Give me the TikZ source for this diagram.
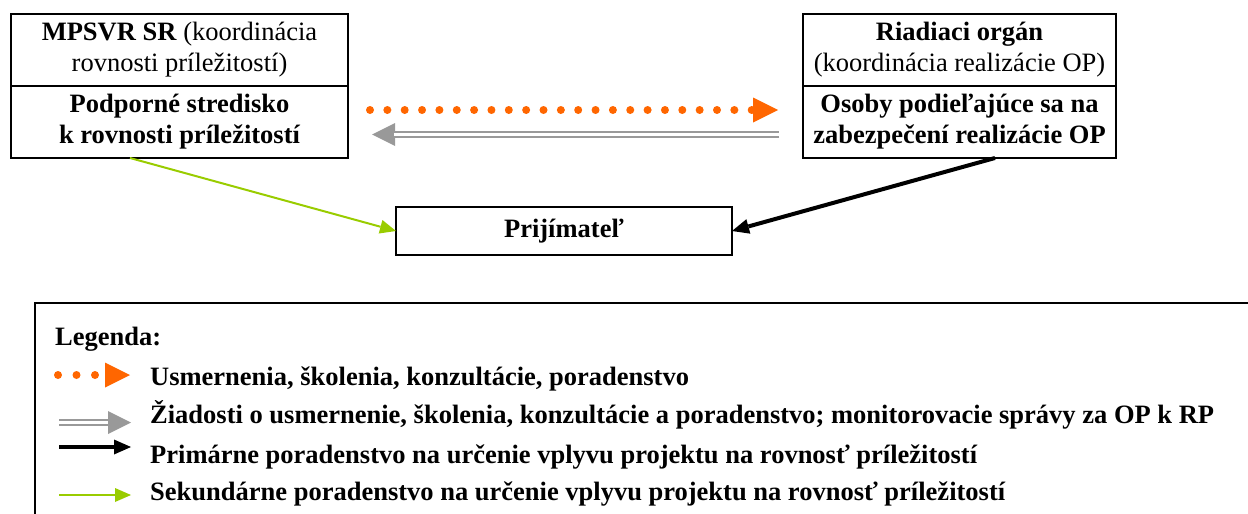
\documentclass[tikz,border=0pt]{standalone}
\usepackage{fontspec}
\setmainfont{Liberation Serif}
\usetikzlibrary{arrows.meta,positioning}
\definecolor{dotorange}{HTML}{FF6600}
\definecolor{arrowgray}{HTML}{999999}
\definecolor{lightgreen}{HTML}{99CC00}

\begin{document}
\begin{tikzpicture}[x=1pt,y=1pt,
  boxstyle/.style={draw,line width=1.5pt,align=center,inner sep=0pt,outer sep=0pt,minimum height=72pt,font=\fontsize{26.5}{31}\selectfont},
  boldbox/.style={boxstyle,font=\fontsize{26.5}{31}\selectfont\bfseries},
  legendtext/.style={anchor=base west,inner sep=0pt,font=\fontsize{26.5}{31}\selectfont\bfseries},
  dotline/.style={dotorange,line width=8pt,line cap=round,-{Triangle[length=25pt,width=25pt,line width=0pt]}},
  grayline/.style={arrowgray,line width=7.5pt,-{Triangle[length=23pt,width=23pt,line width=0pt]}},
  grayinner/.style={white,line width=3.5pt},
  blackline/.style={black,line width=4pt,-{Triangle[length=17pt,width=15pt,line width=0pt]}},
  greenline/.style={lightgreen,line width=2pt,-{Triangle[length=16pt,width=14pt,line width=0pt]}}]
\clip (0,0) rectangle (1248,-514);

% boxes
\node[boxstyle,minimum width=337pt] (mpsvr) at (179.5,-50) {\textbf{MPSVR SR} (koordinácia\\rovnosti príležitostí)};
\node[boldbox,minimum width=337pt,below=0pt of mpsvr] (podpora) {Podporné stredisko\\k rovnosti príležitostí};
\node[boxstyle,minimum width=313pt] (riadiaci) at (959.5,-50) {\textbf{Riadiaci orgán}\\(koordinácia realizácie OP)};
\node[boldbox,minimum width=313pt,below=0pt of riadiaci] (osoby) {Osoby podieľajúce sa na\\zabezpečení realizácie OP};
\node[boldbox,minimum width=336pt,minimum height=48pt] (prijimatel) at (564,-231) {Prijímateľ};

% connectors
\draw[dotline,dash pattern=on 0pt off 17.35pt,shorten <=22pt,shorten >=25pt] ([yshift=12pt]podpora.east) -- ([yshift=12pt]osoby.west);
\draw[grayline,shorten <=24pt,shorten >=24pt] ([yshift=-12.5pt]osoby.west) -- ([yshift=-12.5pt]podpora.east);
\draw[grayinner,shorten <=24pt,shorten >=46pt] ([yshift=-12.5pt]osoby.west) -- ([yshift=-12.5pt]podpora.east);
\draw[greenline] ([xshift=-49.5pt]podpora.south) -- (prijimatel.west);
\draw[blackline] ([xshift=35.5pt]osoby.south) -- (prijimatel.east);

% legend
\draw[line width=1.5pt] (35,-303) rectangle (1262,-530);
\node[legendtext] (legenda) at (55,-345) {Legenda:};
\coordinate (o1) at (58,-375);  \coordinate (o2) at (130,-375);
\coordinate (g1) at (59,-422.5); \coordinate (g2) at (131,-422.5);
\coordinate (b1) at (59,-447);  \coordinate (b2) at (131,-447);
\coordinate (z1) at (59,-495);  \coordinate (z2) at (131,-495);
\draw[dotline,dash pattern=on 0pt off 18.5pt] (o1) -- (o2);
\draw[grayline] (g1) -- (g2);
\draw[grayinner,shorten >=23pt] (g1) -- (g2);
\draw[blackline] (b1) -- (b2);
\draw[greenline] (z1) -- (z2);
\node[legendtext] (t1) at (150,-385) {Usmernenia, školenia, konzultácie, poradenstvo};
\node[legendtext] (t2) at (150,-423) {Žiadosti o usmernenie, školenia, konzultácie a poradenstvo; monitorovacie správy za OP k RP};
\node[legendtext] (t3) at (150,-463) {Primárne poradenstvo na určenie vplyvu projektu na rovnosť príležitostí};
\node[legendtext] (t4) at (150,-500) {Sekundárne poradenstvo na určenie vplyvu projektu na rovnosť príležitostí};
\end{tikzpicture}
\end{document}
